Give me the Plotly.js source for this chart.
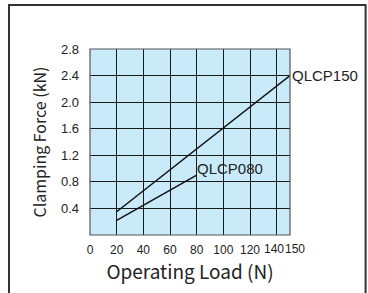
<!DOCTYPE html>
<html><head><meta charset="utf-8">
<script src="https://cdn.plot.ly/plotly-3.0.1.min.js"></script>
<style>html,body{margin:0;padding:0;background:#fff}#chart{width:368px;height:293px}</style>
</head><body><div id="chart"></div>
<script>
const seriesNames = ["QLCP150", "QLCP080"];
const loadQLCP150 = [20, 150];
const forceQLCP150 = [0.35, 2.4];
const loadQLCP080 = [20, 80];
const forceQLCP080 = [0.22, 0.9];
const xTicks = [0, 20, 40, 60, 80, 100, 120, 140, 150];
const yTicks = [0.4, 0.8, 1.2, 1.6, 2.0, 2.4, 2.8];

const F = "Noto Sans CJK JP, Noto Sans, sans-serif";
const L = "Liberation Sans, Arial, sans-serif";
// last two x tick labels are drawn as nudged annotations (crowded like in the reference)
const crowded = [140, 150];
const crowdShift = [-3, 5];
const traces = [
  {x: loadQLCP150, y: forceQLCP150, mode: "lines", line: {color: "#111", width: 1.5}, name: seriesNames[0], hoverinfo: "skip"},
  {x: loadQLCP080, y: forceQLCP080, mode: "lines", line: {color: "#111", width: 1.5}, name: seriesNames[1], hoverinfo: "skip"}
];
const tickAnn = crowded.map((v, i) => ({
  x: v, xref: "x", y: 0, yref: "paper", text: String(v), showarrow: false,
  xanchor: "center", yanchor: "top", xshift: crowdShift[i], yshift: -6, borderpad: 0,
  font: {size: 12, family: L, color: "#222"}
}));
const layout = {
  width: 368, height: 293,
  margin: {l: 90, r: 78, t: 49, b: 58},
  paper_bgcolor: "#fff", plot_bgcolor: "#c9eaf9",
  showlegend: false,
  font: {family: F, color: "#222"},
  xaxis: {
    range: [0, 150], tickvals: xTicks, ticktext: xTicks.map(v => crowded.includes(v) ? "" : String(v)), tickangle: 0,
    showgrid: true, gridcolor: "#1a1a1a", gridwidth: 1,
    zeroline: false, showline: false, ticks: "", ticklabelstandoff: 6,
    tickfont: {size: 12, family: L, color: "#222"},
    title: {text: "Operating Load (N)", font: {size: 19, family: F, color: "#222"}, standoff: 7},
    fixedrange: true
  },
  yaxis: {
    range: [0, 2.8], tickvals: yTicks, ticktext: yTicks.map(v => v.toFixed(1)),
    showgrid: true, gridcolor: "#1a1a1a", gridwidth: 1,
    zeroline: false, showline: false, ticks: "", ticklabelstandoff: 10,
    tickfont: {size: 13, family: L, color: "#222"},
    title: {text: "Clamping Force (kN)", font: {size: 16, family: F, color: "#222"}, standoff: 10},
    fixedrange: true
  },
  shapes: [
    {type: "rect", xref: "paper", yref: "paper", x0: 0, x1: 1, y0: 0, y1: 1, line: {color: "#555", width: 1.2}},
    {type: "rect", xref: "paper", yref: "paper", x0: -0.405, x1: 1.378, y0: -0.33, y1: 1.237, line: {color: "#333", width: 2}}
  ],
  annotations: [
    {x: loadQLCP150[1], y: forceQLCP150[1], text: seriesNames[0], showarrow: false, xanchor: "left", yanchor: "middle", xshift: 0, font: {size: 15, family: L, color: "#222"}},
    {x: loadQLCP080[1], y: forceQLCP080[1], text: seriesNames[1], showarrow: false, xanchor: "left", yanchor: "bottom", xshift: -2, yshift: -4, font: {size: 15, family: L, color: "#222"}}
  ].concat(tickAnn)
};
Plotly.newPlot("chart", traces, layout, {displayModeBar: false, staticPlot: true});
</script></body></html>
